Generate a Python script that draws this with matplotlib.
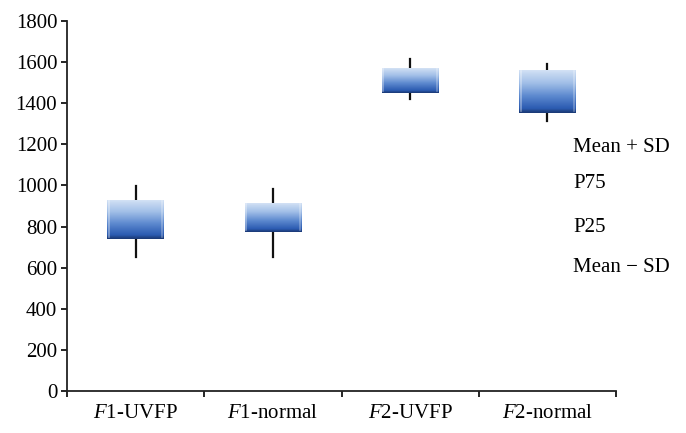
import numpy as np
import matplotlib
matplotlib.use("Agg")
import matplotlib.pyplot as plt
from matplotlib.colors import LinearSegmentedColormap

plt.rcParams['font.family'] = ['Liberation Serif', 'DejaVu Serif']
plt.rcParams['mathtext.fontset'] = 'custom'
plt.rcParams['mathtext.rm'] = 'Liberation Serif'
plt.rcParams['mathtext.it'] = 'Liberation Serif:italic'

# data
groups = [r'$\mathit{F}$1-UVFP', r'$\mathit{F}$1-normal', r'$\mathit{F}$2-UVFP', r'$\mathit{F}$2-normal']
mean_plus_sd = [997, 983, 1615, 1591]
p75 = [929, 913, 1570, 1559]
p25 = [740, 775, 1449, 1354]
mean_minus_sd = [653, 653, 1421, 1314]
legend_labels = ['Mean + SD', 'P75', 'P25', 'Mean \u2212 SD']
yticks = [0, 200, 400, 600, 800, 1000, 1200, 1400, 1600, 1800]

fig = plt.figure(figsize=(6.86, 4.33), dpi=100)
ax = fig.add_axes([67 / 686, 42 / 433, 549 / 686, 370 / 433])

# box gradient: light blue at top, deep blue at bottom, dark rim at the base
cmap = LinearSegmentedColormap.from_list('box', ['#1a3873', '#2c5cb2', '#5f8bd0', '#a3c0e8', '#d4e2f5'])
grad = np.linspace(0, 1, 256).reshape(-1, 1)

half = 0.205
for i in range(len(groups)):
    xc = i + 0.5
    ax.plot([xc, xc], [mean_minus_sd[i], mean_plus_sd[i]], color='#111111', lw=1.6, zorder=1)
    lo, hi = p25[i], p75[i]
    g = np.interp(grad, [0, 0.05, 0.1, 0.55, 0.92, 1.0], [0.0, 0.1, 0.24, 0.62, 0.92, 1.0])
    ax.imshow(g, cmap=cmap, vmin=0, vmax=1, origin='lower', aspect='auto',
              extent=[xc - half, xc + half, lo, hi], zorder=2, interpolation='bilinear')
    # soft highlight on the side edges
    ax.plot([xc - half + 0.01, xc - half + 0.01], [lo + 10, hi - 4], color='white', alpha=0.4, lw=1.2, zorder=3)
    ax.plot([xc + half - 0.01, xc + half - 0.01], [lo + 10, hi - 4], color='white', alpha=0.3, lw=1.2, zorder=3)

ax.set_xlim(0, 4)
ax.set_ylim(0, 1800)
ax.set_xticks([0, 1, 2, 3, 4])
ax.set_xticklabels([])
ax.set_xticks([0.5, 1.5, 2.5, 3.5], minor=True)
ax.set_xticklabels(groups, minor=True, fontsize=15)
ax.tick_params(axis='x', which='minor', length=0, pad=9)
ax.tick_params(axis='x', which='major', length=4, width=1.2, direction='out')
ax.set_yticks(yticks)
ax.set_yticklabels([str(v) for v in yticks], fontsize=15)
ax.tick_params(axis='y', length=4, width=1.2, direction='out', pad=3)

for s in ['top', 'right']:
    ax.spines[s].set_visible(False)
for s in ['left', 'bottom']:
    ax.spines[s].set_linewidth(1.3)
    ax.spines[s].set_color('#222222')

# legend-like labels on the right
label_y = [147, 184, 227, 267]
for txt, yy in zip(legend_labels, label_y):
    fig.text(573 / 686, 1 - yy / 433, txt, fontsize=15, ha='left', va='center')

fig.savefig('out.png', dpi=100)
